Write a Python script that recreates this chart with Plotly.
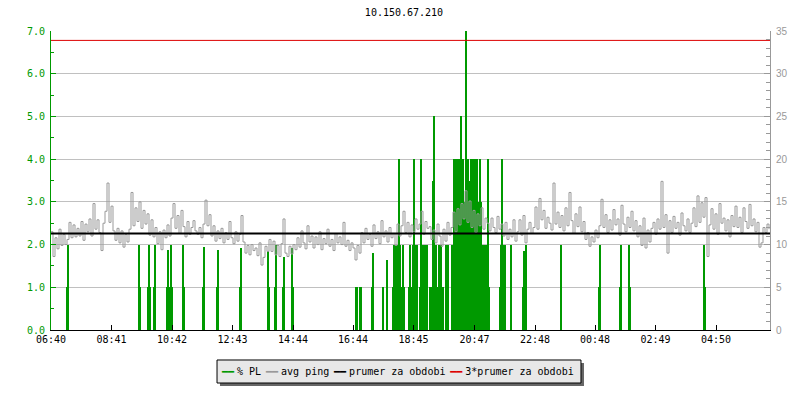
import datetime as dt
import plotly.graph_objects as go

# ---------------- data ----------------
title_text = "10.150.67.210"
start_clock = "06:40"
span_minutes = 1438
x_tick_labels = ["06:40", "08:41", "10:42", "12:43", "14:44", "16:44",
                 "18:45", "20:47", "22:48", "00:48", "02:49", "04:50"]
left_tick_values = [0, 1, 2, 3, 4, 5, 6, 7]
right_tick_values = [0, 5, 10, 15, 20, 25, 30, 35]

ping_step_minutes = 4
# avg ping [ms], one sample every 4 minutes from 06:40
ping_ms = [
    11.5, 8.6, 10.8, 9.5, 11.8, 9.9, 11.2, 10.0, 10.6,
    12.6, 10.8, 12.3, 10.9, 11.9, 11.0, 12.7, 10.5,
    12.4, 11.5, 13.0, 11.0, 14.8, 11.8, 12.9, 11.4, 9.3, 12.5,
    13.9, 17.2, 12.6, 14.5, 11.6,
    10.5, 11.9, 10.2, 11.6, 9.7, 11.2, 10.3, 11.8,
    16.1, 12.2, 14.3, 12.7, 15.0, 11.9, 14.0, 12.4, 13.6, 11.1, 12.9,
    10.9, 12.0, 10.1, 11.5, 9.4, 11.7, 10.8, 12.3, 11.0, 13.1,
    14.8, 11.9, 13.4, 11.3, 14.0, 12.1, 10.9, 12.7, 11.2, 12.0, 12.8, 11.6,
    11.2, 12.0, 10.8, 12.4, 15.2, 12.2, 13.5,
    11.0, 12.2, 10.4, 11.6, 10.7, 11.9, 10.2, 11.4, 10.6, 12.7,
    10.8, 10.1, 11.5, 10.4, 11.2, 13.4,
    10.3, 9.0, 9.9, 8.8, 10.0, 9.3,
    9.6, 8.7, 10.2, 7.6, 8.5, 9.8, 9.2,
    10.6, 9.2, 10.4, 8.8, 9.9, 8.6, 10.1, 13.0,
    9.0, 8.6, 9.8, 8.9, 10.0, 9.4,
    10.8, 9.7, 11.6, 10.2, 9.5, 12.2, 10.3, 11.0, 9.6, 10.9, 10.0,
    11.5, 9.4, 10.7, 10.1, 11.8, 9.8, 10.6, 9.3, 11.3, 10.2, 10.9,
    10.0, 12.6, 9.8, 10.5, 9.3, 10.2, 9.6, 8.2, 9.9, 9.0,
    11.4, 10.2, 11.9, 10.6, 11.2, 9.8, 12.3, 10.7, 11.5, 10.1,
    12.8, 10.9, 11.6, 10.3, 12.0, 10.8, 11.3, 9.9, 12.4, 11.0,
    12.2, 13.9, 11.4, 12.6, 10.9, 12.3, 11.5, 13.0, 11.8, 12.4, 13.9, 11.2, 12.7,
    11.9, 12.1, 10.6, 11.7, 10.2, 12.4, 11.0, 9.8, 11.8, 10.4, 12.6, 11.1,
    12.0, 13.8, 11.5, 14.2, 12.3, 14.8, 13.0, 16.3, 12.6,
    15.1, 12.0, 14.0, 11.4, 13.6, 12.2, 14.3, 11.8, 13.1,
    12.5, 11.6, 13.1, 12.0, 11.4, 13.3, 11.8, 12.4,
    11.0, 12.6, 10.6, 11.8, 10.9, 12.9, 10.4, 11.5,
    12.9, 11.1, 13.4, 10.2, 11.8, 12.6, 11.3, 12.0,
    14.4, 11.8, 15.4, 12.9, 14.0, 11.9, 13.2, 12.5, 11.7,
    17.2, 12.4, 13.8,
    12.0, 13.4, 11.6, 14.3, 12.2, 16.1, 12.8, 11.3, 13.6, 12.1, 14.4, 11.5, 12.7,
    10.6, 11.4, 9.8, 10.9, 10.3, 11.7, 10.8,
    12.2, 15.3, 12.0, 13.5, 11.4, 12.9, 11.7, 14.1,
    12.3, 13.0, 11.1, 14.6, 12.4, 11.5, 13.2, 12.0,
    13.9, 11.6, 12.8, 10.9, 12.2, 9.9, 13.1, 9.6, 11.7, 10.3, 11.9, 12.6, 11.2, 13.0, 11.8,
    17.4,
    12.0, 13.5, 9.0, 12.8, 11.4, 13.3, 11.9, 12.6, 11.1, 13.7, 12.2, 11.6, 13.0, 11.4, 12.5, 14.3, 12.1,
    15.7, 12.6, 14.9, 13.2, 15.5,
    8.6,
    12.3, 14.2, 11.8, 13.6, 11.2, 14.8, 12.5, 13.1, 11.6, 12.9, 10.9, 13.4, 12.1,
    14.5, 12.0, 13.2, 11.4, 14.3, 12.7, 11.9, 14.7, 12.2, 13.0, 11.5, 12.6,
    9.7, 10.2, 12.0, 11.4, 12.4, 11.8,
]

# packet loss [%]: minute offset from 06:40 and value
pl_minute = [
    32, 34, 176, 178, 194, 196, 198, 206, 208, 232, 234, 236, 238, 240, 242, 264, 266,
    304, 306, 332, 334, 378, 380, 434, 436, 448, 450, 464, 466, 482, 484,
    610, 612, 618, 620, 642, 644, 664, 672, 684, 686,
    690, 692, 694, 696, 698, 700, 704, 706, 716, 718, 720, 724, 726, 730, 732,
    738, 740, 742, 744, 746, 748, 750, 752,
    758, 762, 764, 766, 768, 770, 772, 774, 776, 780, 784, 790, 794,
    802, 804, 806, 808, 810, 812, 814, 816, 818, 820, 822, 824, 826, 828, 830, 832, 834,
    836, 838, 840, 842, 844, 846, 848, 850, 852, 854, 856, 858, 860, 862, 864, 866, 868,
    870, 872, 874, 876, 898, 900, 902, 904, 906, 908, 920, 944, 946, 950,
    1020, 1096, 1098, 1138, 1140, 1156, 1158, 1306, 1308,
]
pl_percent = [
    1.0, 2.0, 2.0, 1.0, 1.0, 2.0, 1.0, 1.0, 2.0, 1.0, 1.87, 1.0, 1.0, 2.0, 1.0, 2.0, 1.0,
    1.0, 1.95, 1.0, 1.87, 1.0, 1.93, 1.85, 1.0, 1.0, 2.0, 1.0, 1.72, 1.93, 1.0,
    1.0, 1.0, 1.0, 1.0, 1.0, 1.8, 1.0, 1.64, 1.0, 2.0,
    2.0, 2.0, 1.0, 4.0, 2.0, 1.0, 2.0, 1.0, 1.0, 2.0, 1.0, 2.0, 4.0, 2.0, 2.0,
    1.0, 4.0, 2.0, 1.0, 2.0, 1.0, 2.0, 2.0,
    1.0, 1.0, 3.5, 5.0, 1.0, 2.0, 1.0, 1.0, 2.0, 2.0, 1.0, 2.0, 2.0,
    2.0, 2.0, 4.0, 2.0, 4.0, 2.0, 4.0, 2.0, 4.0, 5.0, 3.5, 4.0, 2.0, 3.0, 7.0, 2.0, 4.0,
    2.0, 3.5, 4.0, 2.0, 4.0, 2.0, 4.0, 2.0, 4.0, 3.0, 2.0, 4.0, 3.0, 2.0, 2.0, 1.0, 2.0,
    2.0, 1.0, 4.0, 1.0, 1.0, 2.0, 4.0, 2.0, 2.0, 2.0, 2.0, 1.0, 1.85, 2.0,
    2.0, 1.0, 2.0, 1.0, 2.0, 2.0, 1.0, 2.0, 1.0,
]

prumer_ms = 11.3          # average for the period
legend_names = ["% PL", "avg ping", "prumer za obdobi", "3*prumer za obdobi"]

# ---------------- colours / fonts ----------------
C_PL = "#009900"
C_PING = "#999999"
C_AVG = "#000000"
C_AVG3 = "#dd0000"
MONO = "DejaVu Sans Mono"

# ---------------- build ----------------
base = dt.datetime(2024, 1, 1, int(start_clock[:2]), int(start_clock[3:]))


def clock_to_dt(label):
    h, m = int(label[:2]), int(label[3:])
    d = dt.datetime(2024, 1, 1, h, m)
    if d < base:
        d += dt.timedelta(days=1)
    return d


ping_x = [base + dt.timedelta(minutes=ping_step_minutes * i) for i in range(len(ping_ms))]
pl_x = [base + dt.timedelta(minutes=m) for m in pl_minute]
end = base + dt.timedelta(minutes=span_minutes)
tick_x = [clock_to_dt(t) for t in x_tick_labels]

fig = go.Figure()
fig.add_trace(go.Bar(x=pl_x, y=pl_percent, width=2 * 60 * 1000, marker=dict(color=C_PL, line=dict(width=0)),
                     name=legend_names[0], yaxis="y", showlegend=False))
fig.add_trace(go.Scatter(x=ping_x, y=ping_ms, mode="lines", line=dict(color=C_PING, width=1, shape="hv"),
                         name=legend_names[1], yaxis="y2", showlegend=False))
fig.add_trace(go.Scatter(x=[base, end], y=[prumer_ms, prumer_ms], mode="lines",
                         line=dict(color=C_AVG, width=2), name=legend_names[2], yaxis="y2", showlegend=False))
fig.add_trace(go.Scatter(x=[base, end], y=[3 * prumer_ms, 3 * prumer_ms], mode="lines",
                         line=dict(color=C_AVG3, width=1), name=legend_names[3], yaxis="y2", showlegend=False))

# legend drawn as a boxed text line
sym = "━━"
gap_a = '<span style="font-size:5px"> </span>'
gap_b = '<span style="font-size:8px"> </span>'
leg_colors = [C_PL, C_PING, C_AVG, C_AVG3]
leg_text = gap_b.join(
    f'<span style="color:{c}">{sym}</span>{gap_a}{n}' for c, n in zip(leg_colors, legend_names))

fig.update_layout(
    width=792, height=392,
    margin=dict(l=43, r=30, t=23, b=70, pad=0),
    paper_bgcolor="white", plot_bgcolor="white",
    bargap=0,
    title=dict(text=title_text, x=0.5, xref="container", xanchor="center", y=0.988, yanchor="middle",
               font=dict(family=MONO, size=10, color="black")),
    xaxis=dict(type="date", range=[base, end], tickvals=tick_x, ticktext=x_tick_labels,
               showgrid=False, zeroline=False, showline=True, linecolor="black", linewidth=1,
               ticks="inside", ticklen=5, tickcolor="black",
               tickfont=dict(family=MONO, size=10, color="black")),
    yaxis=dict(range=[0, 7], tickvals=left_tick_values, tickformat=".1f",
               showgrid=True, gridcolor="#c0c0c0", gridwidth=1, zeroline=False,
               showline=True, linecolor=C_PL, linewidth=1,
               ticks="inside", ticklen=5, tickcolor=C_PL, ticklabelstandoff=3,
               minor=dict(dtick=0.5, ticks="inside", ticklen=3, tickcolor=C_PL, showgrid=False),
               tickfont=dict(family=MONO, size=10, color=C_PL)),
    yaxis2=dict(range=[0, 35], overlaying="y", side="right", tickvals=right_tick_values,
                showgrid=False, zeroline=False, showline=True, linecolor=C_PING, linewidth=1,
                ticks="inside", ticklen=6, tickcolor=C_PING, ticklabelstandoff=3,
                minor=dict(dtick=1, ticks="inside", ticklen=4, tickcolor=C_PING, showgrid=False),
                tickfont=dict(family="Liberation Sans", size=10, color=C_PING)),
    shapes=[
        dict(type="rect", xref="paper", yref="paper", x0=0.2350, x1=0.7413, y0=-0.1873, y1=-0.1104,
             fillcolor="#666666", line=dict(width=0), layer="above"),
        dict(type="rect", xref="paper", yref="paper", x0=0.2309, x1=0.7371, y0=-0.1773, y1=-0.1003,
             fillcolor="#e8e8e8", line=dict(color="black", width=1), layer="above"),
    ],
    annotations=[
        dict(text=leg_text, xref="paper", yref="paper", x=0.4818, y=-0.1388,
             xanchor="center", yanchor="middle", showarrow=False,
             font=dict(family=MONO, size=10, color="black")),
    ],
)

fig.write_html("out.html")
